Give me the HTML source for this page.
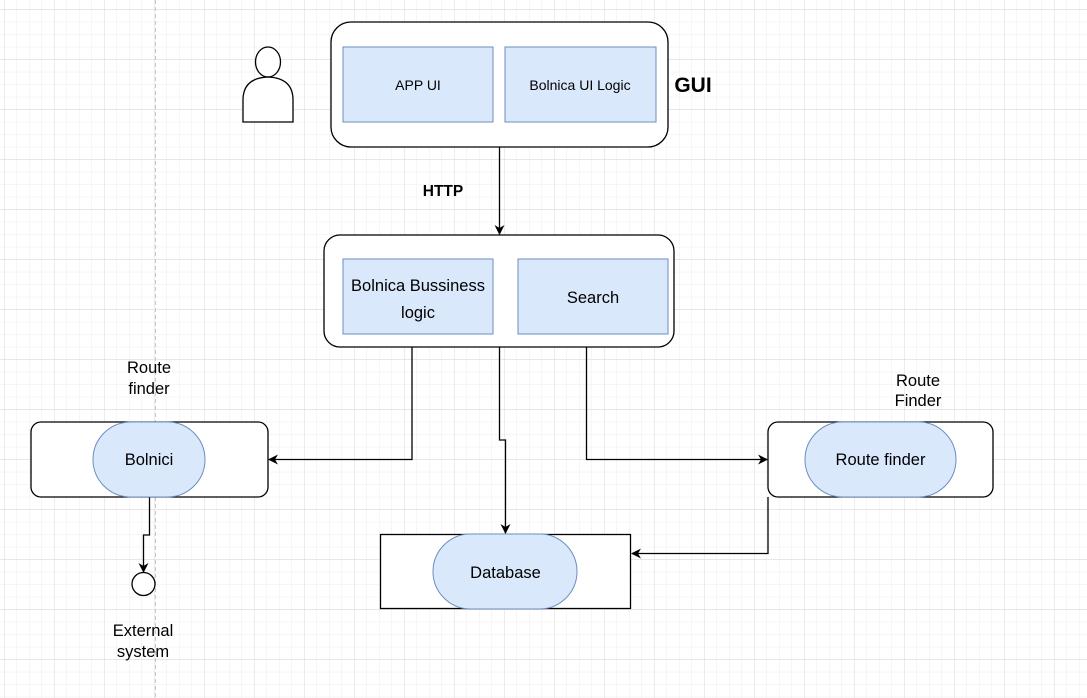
<!DOCTYPE html>
<html><head><meta charset="utf-8"><style>
html,body{margin:0;padding:0;background:#fff;}
svg{display:block;}
text{font-family:"Liberation Sans",Arial,sans-serif;}
</style></head><body>
<svg width="1087" height="698" viewBox="0 0 1087 698" xmlns="http://www.w3.org/2000/svg">
<defs>
<pattern id="minor" x="4" y="9.3" width="12.5" height="12.5" patternUnits="userSpaceOnUse">
<path d="M0 0 H12.5 M0 0 V12.5" stroke="#ececec" stroke-width="1" fill="none"/>
</pattern>
<pattern id="major" x="4" y="9.3" width="50" height="50" patternUnits="userSpaceOnUse">
<path d="M0 0 H50 M0 0 V50" stroke="#d8d8d8" stroke-width="1" fill="none"/>
</pattern>
<marker id="ah" viewBox="0 0 10 10" refX="9" refY="5" markerWidth="10" markerHeight="10" markerUnits="userSpaceOnUse" orient="auto">
<path d="M0 0 L10 5 L0 10 L3 5 Z" fill="#000"/>
</marker>
</defs>
<rect width="1087" height="698" fill="url(#minor)"/>
<rect width="1087" height="698" fill="url(#major)"/>
<line x1="155.5" y1="0" x2="155.5" y2="698" stroke="#c8c8c8" stroke-dasharray="4 3"/>

<!-- person -->
<ellipse cx="268" cy="62" rx="12.5" ry="15" fill="#fff" stroke="#000" stroke-width="1.3"/>
<path d="M243 122 V100 Q243 78 268 77 Q293 78 293 100 V122 Z" fill="#fff" stroke="#000" stroke-width="1.3"/>

<!-- GUI box -->
<rect x="331" y="22" width="337" height="125" rx="20" fill="#fff" stroke="#000" stroke-width="1.3"/>
<rect x="343" y="47" width="150" height="75" fill="#dae8fc" stroke="#6c8ebf"/>
<rect x="505" y="47" width="151" height="75" fill="#dae8fc" stroke="#6c8ebf"/>
<text x="418" y="90" font-size="14" text-anchor="middle">APP UI</text>
<text x="580" y="90" font-size="14" text-anchor="middle">Bolnica UI Logic</text>
<text x="693" y="92" font-size="21" font-weight="bold" text-anchor="middle">GUI</text>

<text x="443" y="196" font-size="15.5" font-weight="bold" text-anchor="middle">HTTP</text>
<line x1="499.5" y1="147" x2="499.5" y2="234" stroke="#000" stroke-width="1.3" marker-end="url(#ah)"/>

<!-- middle box -->
<rect x="324" y="235" width="350" height="112" rx="16" fill="#fff" stroke="#000" stroke-width="1.3"/>
<rect x="343" y="259" width="150" height="75" fill="#dae8fc" stroke="#6c8ebf"/>
<rect x="518" y="259" width="150" height="75" fill="#dae8fc" stroke="#6c8ebf"/>
<text x="418" y="291" font-size="16.5" text-anchor="middle">Bolnica Bussiness</text>
<text x="418" y="318" font-size="16.5" text-anchor="middle">logic</text>
<text x="593" y="303" font-size="16.5" text-anchor="middle">Search</text>

<!-- connectors -->
<polyline points="412,347 412,459.5 269,459.5" fill="none" stroke="#000" stroke-width="1.3" marker-end="url(#ah)"/>
<polyline points="499.5,347 499.5,440 505.5,440 505.5,533" fill="none" stroke="#000" stroke-width="1.3" marker-end="url(#ah)"/>
<polyline points="586.5,347 586.5,459.5 767,459.5" fill="none" stroke="#000" stroke-width="1.3" marker-end="url(#ah)"/>
<polyline points="768,497 768,553.5 632,553.5" fill="none" stroke="#000" stroke-width="1.3" marker-end="url(#ah)"/>
<polyline points="149.5,497 149.5,535 143.5,535 143.5,572" fill="none" stroke="#000" stroke-width="1.3" marker-end="url(#ah)"/>

<!-- Bolnici -->
<rect x="31" y="422" width="237" height="75" rx="10" fill="#fff" stroke="#000" stroke-width="1.3"/>
<rect x="93" y="422" width="112" height="75" rx="37.5" fill="#dae8fc" stroke="#6c8ebf"/>
<text x="149" y="465" font-size="16.5" text-anchor="middle">Bolnici</text>
<text x="149" y="373" font-size="16.5" text-anchor="middle">Route</text>
<text x="149" y="394" font-size="16.5" text-anchor="middle">finder</text>

<circle cx="143.5" cy="584" r="11.5" fill="#fff" stroke="#000" stroke-width="1.3"/>
<text x="143" y="636" font-size="16.5" text-anchor="middle">External</text>
<text x="143" y="657" font-size="16.5" text-anchor="middle">system</text>

<!-- Route finder -->
<rect x="768" y="422" width="225" height="75" rx="10" fill="#fff" stroke="#000" stroke-width="1.3"/>
<rect x="805" y="422" width="151" height="75" rx="37.5" fill="#dae8fc" stroke="#6c8ebf"/>
<text x="880.5" y="465" font-size="16.5" text-anchor="middle">Route finder</text>
<text x="918" y="386" font-size="16.5" text-anchor="middle">Route</text>
<text x="918" y="406" font-size="16.5" text-anchor="middle">Finder</text>

<!-- Database -->
<rect x="380.5" y="534.5" width="250" height="74" fill="#fff" stroke="#000" stroke-width="1.3"/>
<rect x="433" y="534" width="144" height="75" rx="37.5" fill="#dae8fc" stroke="#6c8ebf"/>
<text x="505.5" y="578" font-size="16.5" text-anchor="middle">Database</text>
</svg>
</body></html>
